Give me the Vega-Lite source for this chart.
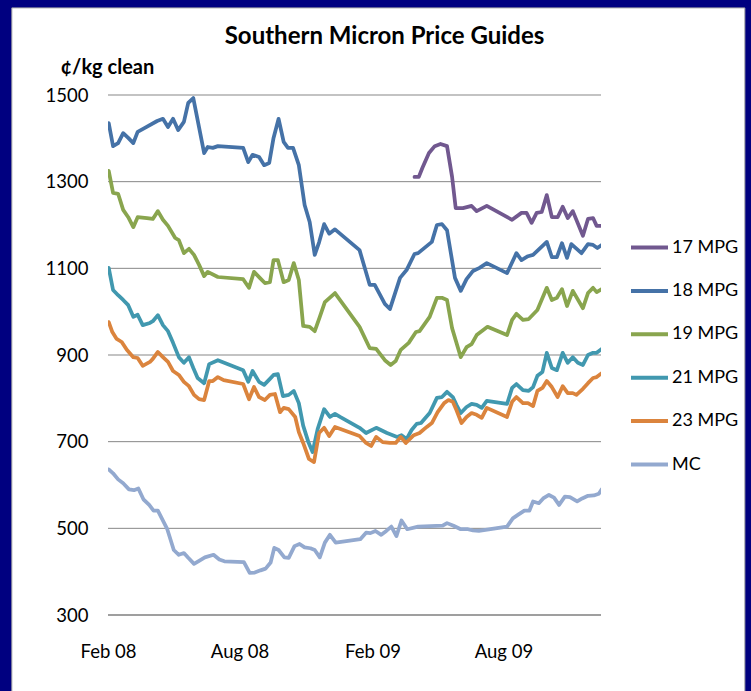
{
"$schema": "https://vega.github.io/schema/vega-lite/v6.json",
"width": 493, "height": 520,
"autosize": {"type": "none"},
"padding": {"left": 108, "top": 95, "right": 150, "bottom": 76},
"background": "#000080",
"config": {"view": {"stroke": null}, "font": "Lato"},
"title": {"text": "Southern Micron Price Guides", "fontSize": 24, "fontWeight": "bold", "color": "black", "anchor": "middle", "frame": "group", "dx": 30, "offset": -42},
"datasets": {
"grid": [{"value": 500}, {"value": 700}, {"value": 900}, {"value": 1100}, {"value": 1300}, {"value": 1500}],
"prices": [
{"date":"2008-02-02","series":"18 MPG","price":1435},
{"date":"2008-02-08","series":"18 MPG","price":1382},
{"date":"2008-02-15","series":"18 MPG","price":1389},
{"date":"2008-02-22","series":"18 MPG","price":1412},
{"date":"2008-02-29","series":"18 MPG","price":1401},
{"date":"2008-03-07","series":"18 MPG","price":1389},
{"date":"2008-03-13","series":"18 MPG","price":1415},
{"date":"2008-03-23","series":"18 MPG","price":1424},
{"date":"2008-04-09","series":"18 MPG","price":1440},
{"date":"2008-04-17","series":"18 MPG","price":1445},
{"date":"2008-04-24","series":"18 MPG","price":1426},
{"date":"2008-05-01","series":"18 MPG","price":1445},
{"date":"2008-05-08","series":"18 MPG","price":1419},
{"date":"2008-05-16","series":"18 MPG","price":1438},
{"date":"2008-05-22","series":"18 MPG","price":1482},
{"date":"2008-05-29","series":"18 MPG","price":1493},
{"date":"2008-06-13","series":"18 MPG","price":1366},
{"date":"2008-06-18","series":"18 MPG","price":1380},
{"date":"2008-06-25","series":"18 MPG","price":1378},
{"date":"2008-07-02","series":"18 MPG","price":1382},
{"date":"2008-08-06","series":"18 MPG","price":1378},
{"date":"2008-08-13","series":"18 MPG","price":1345},
{"date":"2008-08-19","series":"18 MPG","price":1362},
{"date":"2008-08-28","series":"18 MPG","price":1357},
{"date":"2008-09-04","series":"18 MPG","price":1338},
{"date":"2008-09-11","series":"18 MPG","price":1343},
{"date":"2008-09-17","series":"18 MPG","price":1401},
{"date":"2008-09-24","series":"18 MPG","price":1445},
{"date":"2008-10-01","series":"18 MPG","price":1392},
{"date":"2008-10-07","series":"18 MPG","price":1378},
{"date":"2008-10-14","series":"18 MPG","price":1378},
{"date":"2008-10-22","series":"18 MPG","price":1338},
{"date":"2008-10-30","series":"18 MPG","price":1246},
{"date":"2008-11-06","series":"18 MPG","price":1207},
{"date":"2008-11-13","series":"18 MPG","price":1131},
{"date":"2008-11-19","series":"18 MPG","price":1160},
{"date":"2008-11-26","series":"18 MPG","price":1202},
{"date":"2008-12-03","series":"18 MPG","price":1180},
{"date":"2008-12-11","series":"18 MPG","price":1190},
{"date":"2009-01-14","series":"18 MPG","price":1142},
{"date":"2009-01-28","series":"18 MPG","price":1062},
{"date":"2009-02-04","series":"18 MPG","price":1062},
{"date":"2009-02-18","series":"18 MPG","price":1018},
{"date":"2009-02-25","series":"18 MPG","price":1006},
{"date":"2009-03-11","series":"18 MPG","price":1078},
{"date":"2009-03-20","series":"18 MPG","price":1096},
{"date":"2009-03-31","series":"18 MPG","price":1133},
{"date":"2009-04-05","series":"18 MPG","price":1135},
{"date":"2009-04-24","series":"18 MPG","price":1161},
{"date":"2009-05-01","series":"18 MPG","price":1200},
{"date":"2009-05-08","series":"18 MPG","price":1202},
{"date":"2009-05-15","series":"18 MPG","price":1188},
{"date":"2009-05-26","series":"18 MPG","price":1078},
{"date":"2009-06-03","series":"18 MPG","price":1048},
{"date":"2009-06-11","series":"18 MPG","price":1075},
{"date":"2009-06-20","series":"18 MPG","price":1094},
{"date":"2009-06-29","series":"18 MPG","price":1101},
{"date":"2009-07-09","series":"18 MPG","price":1112},
{"date":"2009-08-06","series":"18 MPG","price":1089},
{"date":"2009-08-19","series":"18 MPG","price":1135},
{"date":"2009-08-26","series":"18 MPG","price":1119},
{"date":"2009-09-04","series":"18 MPG","price":1128},
{"date":"2009-09-11","series":"18 MPG","price":1131},
{"date":"2009-09-30","series":"18 MPG","price":1161},
{"date":"2009-10-07","series":"18 MPG","price":1126},
{"date":"2009-10-14","series":"18 MPG","price":1126},
{"date":"2009-10-21","series":"18 MPG","price":1158},
{"date":"2009-10-28","series":"18 MPG","price":1124},
{"date":"2009-11-03","series":"18 MPG","price":1156},
{"date":"2009-11-17","series":"18 MPG","price":1135},
{"date":"2009-11-26","series":"18 MPG","price":1156},
{"date":"2009-12-03","series":"18 MPG","price":1154},
{"date":"2009-12-09","series":"18 MPG","price":1147},
{"date":"2009-12-15","series":"18 MPG","price":1154},
{"date":"2009-03-31","series":"17 MPG","price":1311},
{"date":"2009-04-06","series":"17 MPG","price":1311},
{"date":"2009-04-11","series":"17 MPG","price":1332},
{"date":"2009-04-20","series":"17 MPG","price":1366},
{"date":"2009-04-28","series":"17 MPG","price":1382},
{"date":"2009-05-06","series":"17 MPG","price":1387},
{"date":"2009-05-15","series":"17 MPG","price":1382},
{"date":"2009-05-22","series":"17 MPG","price":1311},
{"date":"2009-05-27","series":"17 MPG","price":1239},
{"date":"2009-06-06","series":"17 MPG","price":1239},
{"date":"2009-06-18","series":"17 MPG","price":1244},
{"date":"2009-06-25","series":"17 MPG","price":1232},
{"date":"2009-07-09","series":"17 MPG","price":1244},
{"date":"2009-08-13","series":"17 MPG","price":1212},
{"date":"2009-08-26","series":"17 MPG","price":1228},
{"date":"2009-09-02","series":"17 MPG","price":1228},
{"date":"2009-09-09","series":"17 MPG","price":1205},
{"date":"2009-09-16","series":"17 MPG","price":1228},
{"date":"2009-09-23","series":"17 MPG","price":1230},
{"date":"2009-09-30","series":"17 MPG","price":1269},
{"date":"2009-10-07","series":"17 MPG","price":1218},
{"date":"2009-10-15","series":"17 MPG","price":1218},
{"date":"2009-10-22","series":"17 MPG","price":1242},
{"date":"2009-10-29","series":"17 MPG","price":1216},
{"date":"2009-11-05","series":"17 MPG","price":1232},
{"date":"2009-11-19","series":"17 MPG","price":1175},
{"date":"2009-11-26","series":"17 MPG","price":1214},
{"date":"2009-12-03","series":"17 MPG","price":1216},
{"date":"2009-12-08","series":"17 MPG","price":1198},
{"date":"2009-12-15","series":"17 MPG","price":1198},
{"date":"2008-02-02","series":"19 MPG","price":1325},
{"date":"2008-02-08","series":"19 MPG","price":1274},
{"date":"2008-02-15","series":"19 MPG","price":1272},
{"date":"2008-02-22","series":"19 MPG","price":1235},
{"date":"2008-02-29","series":"19 MPG","price":1218},
{"date":"2008-03-07","series":"19 MPG","price":1195},
{"date":"2008-03-13","series":"19 MPG","price":1218},
{"date":"2008-03-26","series":"19 MPG","price":1216},
{"date":"2008-04-03","series":"19 MPG","price":1214},
{"date":"2008-04-10","series":"19 MPG","price":1232},
{"date":"2008-04-17","series":"19 MPG","price":1212},
{"date":"2008-04-24","series":"19 MPG","price":1198},
{"date":"2008-05-04","series":"19 MPG","price":1170},
{"date":"2008-05-09","series":"19 MPG","price":1165},
{"date":"2008-05-16","series":"19 MPG","price":1135},
{"date":"2008-05-23","series":"19 MPG","price":1145},
{"date":"2008-05-30","series":"19 MPG","price":1131},
{"date":"2008-06-06","series":"19 MPG","price":1108},
{"date":"2008-06-13","series":"19 MPG","price":1082},
{"date":"2008-06-18","series":"19 MPG","price":1092},
{"date":"2008-07-02","series":"19 MPG","price":1080},
{"date":"2008-08-06","series":"19 MPG","price":1075},
{"date":"2008-08-14","series":"19 MPG","price":1055},
{"date":"2008-08-21","series":"19 MPG","price":1092},
{"date":"2008-08-29","series":"19 MPG","price":1078},
{"date":"2008-09-05","series":"19 MPG","price":1066},
{"date":"2008-09-12","series":"19 MPG","price":1068},
{"date":"2008-09-17","series":"19 MPG","price":1119},
{"date":"2008-09-23","series":"19 MPG","price":1119},
{"date":"2008-10-01","series":"19 MPG","price":1068},
{"date":"2008-10-08","series":"19 MPG","price":1073},
{"date":"2008-10-15","series":"19 MPG","price":1112},
{"date":"2008-10-22","series":"19 MPG","price":1073},
{"date":"2008-10-28","series":"19 MPG","price":967},
{"date":"2008-11-06","series":"19 MPG","price":965},
{"date":"2008-11-13","series":"19 MPG","price":955},
{"date":"2008-11-20","series":"19 MPG","price":988},
{"date":"2008-11-27","series":"19 MPG","price":1022},
{"date":"2008-12-11","series":"19 MPG","price":1043},
{"date":"2009-01-14","series":"19 MPG","price":965},
{"date":"2009-01-28","series":"19 MPG","price":916},
{"date":"2009-02-06","series":"19 MPG","price":914},
{"date":"2009-02-18","series":"19 MPG","price":888},
{"date":"2009-02-26","series":"19 MPG","price":877},
{"date":"2009-03-05","series":"19 MPG","price":886},
{"date":"2009-03-12","series":"19 MPG","price":912},
{"date":"2009-03-23","series":"19 MPG","price":928},
{"date":"2009-04-02","series":"19 MPG","price":953},
{"date":"2009-04-07","series":"19 MPG","price":955},
{"date":"2009-04-21","series":"19 MPG","price":988},
{"date":"2009-05-01","series":"19 MPG","price":1032},
{"date":"2009-05-08","series":"19 MPG","price":1032},
{"date":"2009-05-15","series":"19 MPG","price":1027},
{"date":"2009-05-22","series":"19 MPG","price":962},
{"date":"2009-06-03","series":"19 MPG","price":895},
{"date":"2009-06-11","series":"19 MPG","price":918},
{"date":"2009-06-18","series":"19 MPG","price":925},
{"date":"2009-06-25","series":"19 MPG","price":946},
{"date":"2009-07-10","series":"19 MPG","price":965},
{"date":"2009-08-06","series":"19 MPG","price":946},
{"date":"2009-08-13","series":"19 MPG","price":981},
{"date":"2009-08-19","series":"19 MPG","price":995},
{"date":"2009-08-28","series":"19 MPG","price":981},
{"date":"2009-09-05","series":"19 MPG","price":983},
{"date":"2009-09-17","series":"19 MPG","price":1004},
{"date":"2009-09-30","series":"19 MPG","price":1055},
{"date":"2009-10-07","series":"19 MPG","price":1027},
{"date":"2009-10-14","series":"19 MPG","price":1032},
{"date":"2009-10-21","series":"19 MPG","price":1052},
{"date":"2009-10-28","series":"19 MPG","price":1013},
{"date":"2009-11-05","series":"19 MPG","price":1048},
{"date":"2009-11-19","series":"19 MPG","price":1008},
{"date":"2009-11-26","series":"19 MPG","price":1043},
{"date":"2009-12-03","series":"19 MPG","price":1055},
{"date":"2009-12-08","series":"19 MPG","price":1045},
{"date":"2009-12-15","series":"19 MPG","price":1052},
{"date":"2008-02-02","series":"21 MPG","price":1101},
{"date":"2008-02-08","series":"21 MPG","price":1050},
{"date":"2008-02-15","series":"21 MPG","price":1038},
{"date":"2008-02-22","series":"21 MPG","price":1027},
{"date":"2008-02-29","series":"21 MPG","price":1015},
{"date":"2008-03-07","series":"21 MPG","price":988},
{"date":"2008-03-13","series":"21 MPG","price":993},
{"date":"2008-03-20","series":"21 MPG","price":969},
{"date":"2008-03-30","series":"21 MPG","price":974},
{"date":"2008-04-03","series":"21 MPG","price":978},
{"date":"2008-04-10","series":"21 MPG","price":992},
{"date":"2008-04-17","series":"21 MPG","price":969},
{"date":"2008-04-24","series":"21 MPG","price":955},
{"date":"2008-05-01","series":"21 MPG","price":928},
{"date":"2008-05-09","series":"21 MPG","price":895},
{"date":"2008-05-16","series":"21 MPG","price":882},
{"date":"2008-05-23","series":"21 MPG","price":895},
{"date":"2008-05-29","series":"21 MPG","price":870},
{"date":"2008-06-04","series":"21 MPG","price":847},
{"date":"2008-06-13","series":"21 MPG","price":835},
{"date":"2008-06-20","series":"21 MPG","price":879},
{"date":"2008-07-02","series":"21 MPG","price":888},
{"date":"2008-08-06","series":"21 MPG","price":865},
{"date":"2008-08-13","series":"21 MPG","price":838},
{"date":"2008-08-19","series":"21 MPG","price":863},
{"date":"2008-08-28","series":"21 MPG","price":838},
{"date":"2008-09-04","series":"21 MPG","price":831},
{"date":"2008-09-12","series":"21 MPG","price":845},
{"date":"2008-09-17","series":"21 MPG","price":854},
{"date":"2008-09-23","series":"21 MPG","price":856},
{"date":"2008-09-30","series":"21 MPG","price":805},
{"date":"2008-10-08","series":"21 MPG","price":808},
{"date":"2008-10-15","series":"21 MPG","price":817},
{"date":"2008-10-22","series":"21 MPG","price":789},
{"date":"2008-10-28","series":"21 MPG","price":737},
{"date":"2008-11-04","series":"21 MPG","price":700},
{"date":"2008-11-10","series":"21 MPG","price":676},
{"date":"2008-11-17","series":"21 MPG","price":729},
{"date":"2008-11-26","series":"21 MPG","price":775},
{"date":"2008-12-04","series":"21 MPG","price":757},
{"date":"2008-12-11","series":"21 MPG","price":764},
{"date":"2008-12-18","series":"21 MPG","price":757},
{"date":"2009-01-14","series":"21 MPG","price":732},
{"date":"2009-01-23","series":"21 MPG","price":720},
{"date":"2009-02-06","series":"21 MPG","price":732},
{"date":"2009-02-21","series":"21 MPG","price":720},
{"date":"2009-03-07","series":"21 MPG","price":711},
{"date":"2009-03-13","series":"21 MPG","price":715},
{"date":"2009-03-20","series":"21 MPG","price":706},
{"date":"2009-03-27","series":"21 MPG","price":727},
{"date":"2009-04-03","series":"21 MPG","price":741},
{"date":"2009-04-09","series":"21 MPG","price":743},
{"date":"2009-04-21","series":"21 MPG","price":766},
{"date":"2009-05-01","series":"21 MPG","price":801},
{"date":"2009-05-08","series":"21 MPG","price":803},
{"date":"2009-05-15","series":"21 MPG","price":815},
{"date":"2009-05-23","series":"21 MPG","price":803},
{"date":"2009-05-28","series":"21 MPG","price":785},
{"date":"2009-06-03","series":"21 MPG","price":766},
{"date":"2009-06-11","series":"21 MPG","price":780},
{"date":"2009-06-18","series":"21 MPG","price":787},
{"date":"2009-06-25","series":"21 MPG","price":785},
{"date":"2009-07-02","series":"21 MPG","price":778},
{"date":"2009-07-09","series":"21 MPG","price":794},
{"date":"2009-08-06","series":"21 MPG","price":787},
{"date":"2009-08-13","series":"21 MPG","price":824},
{"date":"2009-08-19","series":"21 MPG","price":833},
{"date":"2009-08-28","series":"21 MPG","price":819},
{"date":"2009-09-05","series":"21 MPG","price":817},
{"date":"2009-09-11","series":"21 MPG","price":826},
{"date":"2009-09-17","series":"21 MPG","price":852},
{"date":"2009-09-24","series":"21 MPG","price":861},
{"date":"2009-09-30","series":"21 MPG","price":905},
{"date":"2009-10-07","series":"21 MPG","price":870},
{"date":"2009-10-14","series":"21 MPG","price":865},
{"date":"2009-10-22","series":"21 MPG","price":905},
{"date":"2009-10-29","series":"21 MPG","price":882},
{"date":"2009-11-05","series":"21 MPG","price":895},
{"date":"2009-11-12","series":"21 MPG","price":882},
{"date":"2009-11-19","series":"21 MPG","price":877},
{"date":"2009-11-26","series":"21 MPG","price":900},
{"date":"2009-12-03","series":"21 MPG","price":905},
{"date":"2009-12-08","series":"21 MPG","price":905},
{"date":"2009-12-15","series":"21 MPG","price":914},
{"date":"2008-02-02","series":"23 MPG","price":976},
{"date":"2008-02-07","series":"23 MPG","price":953},
{"date":"2008-02-13","series":"23 MPG","price":937},
{"date":"2008-02-20","series":"23 MPG","price":930},
{"date":"2008-02-27","series":"23 MPG","price":912},
{"date":"2008-03-07","series":"23 MPG","price":895},
{"date":"2008-03-13","series":"23 MPG","price":893},
{"date":"2008-03-20","series":"23 MPG","price":875},
{"date":"2008-03-30","series":"23 MPG","price":884},
{"date":"2008-04-03","series":"23 MPG","price":891},
{"date":"2008-04-10","series":"23 MPG","price":907},
{"date":"2008-04-17","series":"23 MPG","price":895},
{"date":"2008-04-24","series":"23 MPG","price":884},
{"date":"2008-05-01","series":"23 MPG","price":863},
{"date":"2008-05-09","series":"23 MPG","price":854},
{"date":"2008-05-16","series":"23 MPG","price":838},
{"date":"2008-05-23","series":"23 MPG","price":828},
{"date":"2008-05-30","series":"23 MPG","price":808},
{"date":"2008-06-06","series":"23 MPG","price":798},
{"date":"2008-06-13","series":"23 MPG","price":796},
{"date":"2008-06-20","series":"23 MPG","price":840},
{"date":"2008-06-25","series":"23 MPG","price":840},
{"date":"2008-07-02","series":"23 MPG","price":849},
{"date":"2008-07-10","series":"23 MPG","price":842},
{"date":"2008-08-06","series":"23 MPG","price":833},
{"date":"2008-08-14","series":"23 MPG","price":798},
{"date":"2008-08-21","series":"23 MPG","price":826},
{"date":"2008-08-28","series":"23 MPG","price":803},
{"date":"2008-09-05","series":"23 MPG","price":796},
{"date":"2008-09-12","series":"23 MPG","price":808},
{"date":"2008-09-19","series":"23 MPG","price":810},
{"date":"2008-09-26","series":"23 MPG","price":768},
{"date":"2008-10-01","series":"23 MPG","price":778},
{"date":"2008-10-08","series":"23 MPG","price":775},
{"date":"2008-10-17","series":"23 MPG","price":757},
{"date":"2008-10-22","series":"23 MPG","price":722},
{"date":"2008-10-28","series":"23 MPG","price":697},
{"date":"2008-11-05","series":"23 MPG","price":660},
{"date":"2008-11-12","series":"23 MPG","price":653},
{"date":"2008-11-19","series":"23 MPG","price":720},
{"date":"2008-11-26","series":"23 MPG","price":732},
{"date":"2008-12-03","series":"23 MPG","price":713},
{"date":"2008-12-11","series":"23 MPG","price":734},
{"date":"2009-01-14","series":"23 MPG","price":713},
{"date":"2009-01-23","series":"23 MPG","price":697},
{"date":"2009-01-30","series":"23 MPG","price":690},
{"date":"2009-02-06","series":"23 MPG","price":711},
{"date":"2009-02-15","series":"23 MPG","price":699},
{"date":"2009-02-25","series":"23 MPG","price":697},
{"date":"2009-03-05","series":"23 MPG","price":697},
{"date":"2009-03-12","series":"23 MPG","price":711},
{"date":"2009-03-19","series":"23 MPG","price":697},
{"date":"2009-03-30","series":"23 MPG","price":715},
{"date":"2009-04-07","series":"23 MPG","price":720},
{"date":"2009-04-17","series":"23 MPG","price":734},
{"date":"2009-04-24","series":"23 MPG","price":743},
{"date":"2009-05-02","series":"23 MPG","price":768},
{"date":"2009-05-11","series":"23 MPG","price":789},
{"date":"2009-05-17","series":"23 MPG","price":796},
{"date":"2009-05-23","series":"23 MPG","price":792},
{"date":"2009-05-28","series":"23 MPG","price":773},
{"date":"2009-06-04","series":"23 MPG","price":743},
{"date":"2009-06-11","series":"23 MPG","price":757},
{"date":"2009-06-18","series":"23 MPG","price":766},
{"date":"2009-06-25","series":"23 MPG","price":762},
{"date":"2009-07-02","series":"23 MPG","price":755},
{"date":"2009-07-09","series":"23 MPG","price":778},
{"date":"2009-08-06","series":"23 MPG","price":757},
{"date":"2009-08-13","series":"23 MPG","price":792},
{"date":"2009-08-19","series":"23 MPG","price":803},
{"date":"2009-08-28","series":"23 MPG","price":789},
{"date":"2009-09-04","series":"23 MPG","price":789},
{"date":"2009-09-11","series":"23 MPG","price":782},
{"date":"2009-09-17","series":"23 MPG","price":817},
{"date":"2009-09-24","series":"23 MPG","price":824},
{"date":"2009-09-30","series":"23 MPG","price":840},
{"date":"2009-10-07","series":"23 MPG","price":826},
{"date":"2009-10-15","series":"23 MPG","price":803},
{"date":"2009-10-22","series":"23 MPG","price":828},
{"date":"2009-10-29","series":"23 MPG","price":812},
{"date":"2009-11-05","series":"23 MPG","price":812},
{"date":"2009-11-10","series":"23 MPG","price":808},
{"date":"2009-11-19","series":"23 MPG","price":822},
{"date":"2009-11-26","series":"23 MPG","price":835},
{"date":"2009-12-03","series":"23 MPG","price":847},
{"date":"2009-12-08","series":"23 MPG","price":849},
{"date":"2009-12-15","series":"23 MPG","price":858},
{"date":"2008-02-02","series":"MC","price":636},
{"date":"2008-02-08","series":"MC","price":627},
{"date":"2008-02-15","series":"MC","price":613},
{"date":"2008-02-22","series":"MC","price":604},
{"date":"2008-03-01","series":"MC","price":590},
{"date":"2008-03-08","series":"MC","price":588},
{"date":"2008-03-14","series":"MC","price":592},
{"date":"2008-03-21","series":"MC","price":567},
{"date":"2008-03-29","series":"MC","price":554},
{"date":"2008-04-04","series":"MC","price":541},
{"date":"2008-04-10","series":"MC","price":541},
{"date":"2008-04-17","series":"MC","price":518},
{"date":"2008-04-23","series":"MC","price":498},
{"date":"2008-05-02","series":"MC","price":450},
{"date":"2008-05-09","series":"MC","price":439},
{"date":"2008-05-16","series":"MC","price":443},
{"date":"2008-05-22","series":"MC","price":432},
{"date":"2008-05-30","series":"MC","price":418},
{"date":"2008-06-06","series":"MC","price":425},
{"date":"2008-06-14","series":"MC","price":433},
{"date":"2008-06-26","series":"MC","price":439},
{"date":"2008-07-04","series":"MC","price":428},
{"date":"2008-07-11","series":"MC","price":424},
{"date":"2008-08-07","series":"MC","price":422},
{"date":"2008-08-15","series":"MC","price":397},
{"date":"2008-08-22","series":"MC","price":398},
{"date":"2008-08-30","series":"MC","price":403},
{"date":"2008-09-06","series":"MC","price":407},
{"date":"2008-09-13","series":"MC","price":421},
{"date":"2008-09-18","series":"MC","price":455},
{"date":"2008-09-24","series":"MC","price":450},
{"date":"2008-10-02","series":"MC","price":433},
{"date":"2008-10-08","series":"MC","price":432},
{"date":"2008-10-16","series":"MC","price":459},
{"date":"2008-10-23","series":"MC","price":464},
{"date":"2008-10-30","series":"MC","price":456},
{"date":"2008-11-07","series":"MC","price":454},
{"date":"2008-11-13","series":"MC","price":450},
{"date":"2008-11-20","series":"MC","price":433},
{"date":"2008-11-27","series":"MC","price":467},
{"date":"2008-12-04","series":"MC","price":485},
{"date":"2008-12-12","series":"MC","price":467},
{"date":"2009-01-15","series":"MC","price":475},
{"date":"2009-01-23","series":"MC","price":490},
{"date":"2009-01-29","series":"MC","price":489},
{"date":"2009-02-05","series":"MC","price":494},
{"date":"2009-02-13","series":"MC","price":485},
{"date":"2009-02-20","series":"MC","price":494},
{"date":"2009-02-27","series":"MC","price":504},
{"date":"2009-03-06","series":"MC","price":482},
{"date":"2009-03-13","series":"MC","price":518},
{"date":"2009-03-21","series":"MC","price":498},
{"date":"2009-04-05","series":"MC","price":504},
{"date":"2009-05-09","series":"MC","price":506},
{"date":"2009-05-15","series":"MC","price":512},
{"date":"2009-05-24","series":"MC","price":506},
{"date":"2009-06-03","series":"MC","price":498},
{"date":"2009-06-13","series":"MC","price":498},
{"date":"2009-06-20","series":"MC","price":495},
{"date":"2009-06-28","series":"MC","price":494},
{"date":"2009-08-06","series":"MC","price":504},
{"date":"2009-08-14","series":"MC","price":523},
{"date":"2009-08-21","series":"MC","price":531},
{"date":"2009-08-30","series":"MC","price":541},
{"date":"2009-09-06","series":"MC","price":541},
{"date":"2009-09-11","series":"MC","price":562},
{"date":"2009-09-19","series":"MC","price":558},
{"date":"2009-09-25","series":"MC","price":569},
{"date":"2009-10-03","series":"MC","price":577},
{"date":"2009-10-10","series":"MC","price":571},
{"date":"2009-10-17","series":"MC","price":554},
{"date":"2009-10-25","series":"MC","price":573},
{"date":"2009-11-01","series":"MC","price":572},
{"date":"2009-11-11","series":"MC","price":562},
{"date":"2009-11-18","series":"MC","price":569},
{"date":"2009-11-26","series":"MC","price":575},
{"date":"2009-12-04","series":"MC","price":576},
{"date":"2009-12-11","series":"MC","price":580},
{"date":"2009-12-15","series":"MC","price":590}
]},
"layer": [
{
"data": {"values": [{}]},
"mark": {"type": "rect", "fill": "white", "stroke": "#a6a6a6", "strokeWidth": 1, "clip": false},
"encoding": {
"x": {"datum": {"year": 2007, "month": 9, "date": 21}, "type": "temporal", "title": null, "scale": {"domain": [{"year": 2008, "month": 2, "date": 1}, {"year": 2009, "month": 12, "date": 14}], "nice": false}},
"x2": {"datum": {"year": 2010, "month": 7, "date": 1}},
"y": {"datum": 1701, "type": "quantitative", "title": "¢/kg clean", "scale": {"domain": [300, 1500], "nice": false, "zero": false}},
"y2": {"datum": 100}
}
},
{
"data": {"name": "grid"},
"mark": {"type": "rule", "color": "#878787", "strokeWidth": 1},
"encoding": {
"y": {"field": "value", "type": "quantitative", "title": "¢/kg clean", "scale": {"domain": [300, 1500], "nice": false, "zero": false}}
}
},
{
"mark": {"type": "rule", "color": "#7f7f7f", "strokeWidth": 1.5},
"data": {"values": [{}]},
"encoding": {
"y": {"datum": 300, "type": "quantitative", "title": "¢/kg clean", "scale": {"domain": [300, 1500], "nice": false, "zero": false}}
}
},
{
"data": {"name": "prices"},
"mark": {"type": "line", "strokeWidth": 3.75, "strokeJoin": "round", "strokeCap": "round", "clip": true},
"encoding": {
"x": {"field": "date", "type": "temporal", "title": null,
"scale": {"domain": [{"year": 2008, "month": 2, "date": 1}, {"year": 2009, "month": 12, "date": 14}], "nice": false},
"axis": {"values": [{"year": 2008, "month": 2, "date": 1}, {"year": 2008, "month": 8, "date": 1}, {"year": 2009, "month": 2, "date": 1}, {"year": 2009, "month": 8, "date": 1}], "format": "%b %y", "labelFontSize": 18.5, "labelColor": "black", "labelPadding": 27, "ticks": false, "domain": false, "grid": false, "zindex": 1, "labelFlush": false, "labelOverlap": false}},
"y": {"field": "price", "type": "quantitative", "title": "¢/kg clean",
"scale": {"domain": [300, 1500], "nice": false, "zero": false},
"axis": {"values": [300, 500, 700, 900, 1100, 1300, 1500], "format": "d", "labelFontSize": 18.5, "labelColor": "black", "labelPadding": 20, "ticks": false, "domain": false, "grid": false, "zindex": 1, "titleAngle": 0, "titleAlign": "left", "titleBaseline": "alphabetic", "titleX": -48, "titleY": -22, "titleFontSize": 20, "titleFontWeight": "bold", "titleColor": "black"}},
"color": {"field": "series", "type": "nominal",
"scale": {"domain": ["17 MPG", "18 MPG", "19 MPG", "21 MPG", "23 MPG", "MC"], "range": ["#71588F", "#4572A7", "#89A54E", "#4198AF", "#DB843D", "#93A9CF"]},
"legend": {"orient": "none", "legendX": 521, "legendY": 132.5, "title": null, "symbolType": "stroke", "symbolSize": 1369, "symbolStrokeWidth": 4, "labelFontSize": 18, "labelColor": "black", "clipHeight": 40, "rowPadding": 3.4, "labelOffset": 2, "padding": 0}}
}
}
]
}
